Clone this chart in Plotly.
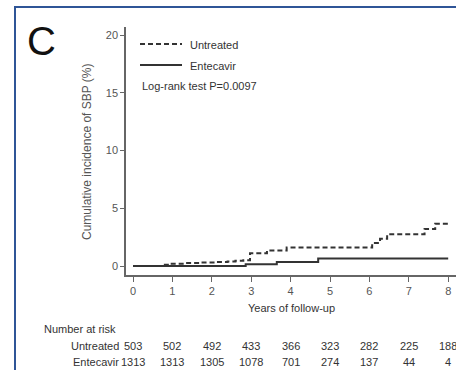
import plotly.graph_objects as go

# Kaplan-Meier style cumulative incidence of SBP (%) by year of follow-up
untreated_t = [0, 0.75, 0.95, 1.3, 1.7, 2.1, 2.4, 2.6, 2.8, 2.97, 3.4, 3.9, 6.07, 6.27, 6.45, 7.4, 7.67, 8.0]
untreated_y = [0, 0.1, 0.2, 0.25, 0.3, 0.35, 0.4, 0.45, 0.5, 1.1, 1.35, 1.6, 2.0, 2.35, 2.75, 3.2, 3.65, 3.65]

entecavir_t = [0, 2.86, 3.65, 4.7, 8.0]
entecavir_y = [0, 0.15, 0.35, 0.65, 0.65]

x_ticks = [0, 1, 2, 3, 4, 5, 6, 7, 8]
y_ticks = [0, 5, 10, 15, 20]

risk_untreated = [503, 502, 492, 433, 366, 323, 282, 225, 188]
risk_entecavir = [1313, 1313, 1305, 1078, 701, 274, 137, 44, 4]

W, H = 456, 370
FONT = "Liberation Sans, Arial, sans-serif"
INK = "#333333"
DASH = "5px,3px"


def px_x(p):
    return p / W


def px_y(p):
    return 1 - p / H


fig = go.Figure()
fig.add_trace(go.Scatter(
    x=untreated_t, y=untreated_y, mode="lines", line_shape="hv",
    line=dict(color=INK, width=2, dash=DASH), name="Untreated",
))
fig.add_trace(go.Scatter(
    x=entecavir_t, y=entecavir_y, mode="lines", line_shape="hv",
    line=dict(color=INK, width=2), name="Entecavir",
))

# axis geometry
x0_px, px_per_year = 133, 39.4
y0_px, px_per_pct = 266, 11.55
ax_left, ax_top, ax_bottom = 126, 27, 275

fig.update_xaxes(
    domain=[px_x(ax_left), 1],
    range=[-(x0_px - ax_left) / px_per_year, (W - x0_px) / px_per_year],
    tickvals=x_ticks, ticks="outside", ticklen=5, tickcolor="#666",
    showline=True, linecolor="#666", linewidth=1.5, showgrid=False, zeroline=False,
    tickfont=dict(family=FONT, size=11, color="#555"),
)
fig.update_yaxes(
    domain=[px_y(ax_bottom), px_y(ax_top)],
    range=[-(ax_bottom - y0_px) / px_per_pct, (y0_px - ax_top) / px_per_pct],
    tickvals=y_ticks, ticks="outside", ticklen=4, tickcolor="#666",
    showline=True, linecolor="#666", linewidth=1.5, showgrid=False, zeroline=False,
    tickfont=dict(family=FONT, size=11, color="#555"),
)

ann = []
ann.append(dict(text="C", x=px_x(25), y=px_y(41), xref="paper", yref="paper",
                xanchor="left", yanchor="middle", showarrow=False,
                font=dict(family=FONT, size=40, color="#111")))
ann.append(dict(text="Cumulative incidence of SBP (%)", x=px_x(87), y=px_y(152),
                xref="paper", yref="paper", textangle=-90, showarrow=False,
                xanchor="center", yanchor="middle",
                font=dict(family=FONT, size=12, color="#555")))
ann.append(dict(text="Years of follow-up", x=px_x(291), y=px_y(308),
                xref="paper", yref="paper", showarrow=False,
                xanchor="center", yanchor="middle",
                font=dict(family=FONT, size=11, color="#333")))

# legend drawn as line samples with labels
shapes = [
    dict(type="line", xref="paper", yref="paper", x0=px_x(140), x1=px_x(182),
         y0=px_y(44), y1=px_y(44), line=dict(color=INK, width=2, dash=DASH)),
    dict(type="line", xref="paper", yref="paper", x0=px_x(140), x1=px_x(182),
         y0=px_y(65), y1=px_y(65), line=dict(color=INK, width=2)),
    # blue figure frame
    dict(type="rect", xref="paper", yref="paper", x0=px_x(15), x1=px_x(470),
         y0=px_y(390), y1=px_y(7), line=dict(color="#2f5597", width=2)),
]
for label, yy in [("Untreated", 45), ("Entecavir", 66)]:
    ann.append(dict(text=label, x=px_x(188), y=px_y(yy), xref="paper", yref="paper",
                    xanchor="left", yanchor="middle", showarrow=False,
                    font=dict(family=FONT, size=11, color="#333")))
ann.append(dict(text="Log-rank test P=0.0097", x=px_x(140), y=px_y(86),
                xref="paper", yref="paper", xanchor="left", yanchor="middle",
                showarrow=False, font=dict(family=FONT, size=11, color="#333")))

# number-at-risk table
ann.append(dict(text="Number at risk", x=px_x(42), y=px_y(329), xref="paper",
                yref="paper", xanchor="left", yanchor="middle", showarrow=False,
                font=dict(family=FONT, size=11, color="#333")))
for label, counts, yy in [("Untreated", risk_untreated, 346),
                          ("Entecavir", risk_entecavir, 362)]:
    ann.append(dict(text=label, x=px_x(121), y=px_y(yy), xref="paper", yref="paper",
                    xanchor="right", yanchor="middle", showarrow=False,
                    font=dict(family=FONT, size=11, color="#333")))
    for t, n in zip(x_ticks, counts):
        ann.append(dict(text=str(n), x=t, y=px_y(yy), xref="x", yref="paper",
                        xanchor="center", yanchor="middle", showarrow=False,
                        font=dict(family=FONT, size=11, color="#333")))

fig.update_layout(
    width=W, height=H, margin=dict(l=0, r=0, t=0, b=0),
    paper_bgcolor="white", plot_bgcolor="white", showlegend=False,
    annotations=ann, shapes=shapes,
)
fig.write_html("out.html")
